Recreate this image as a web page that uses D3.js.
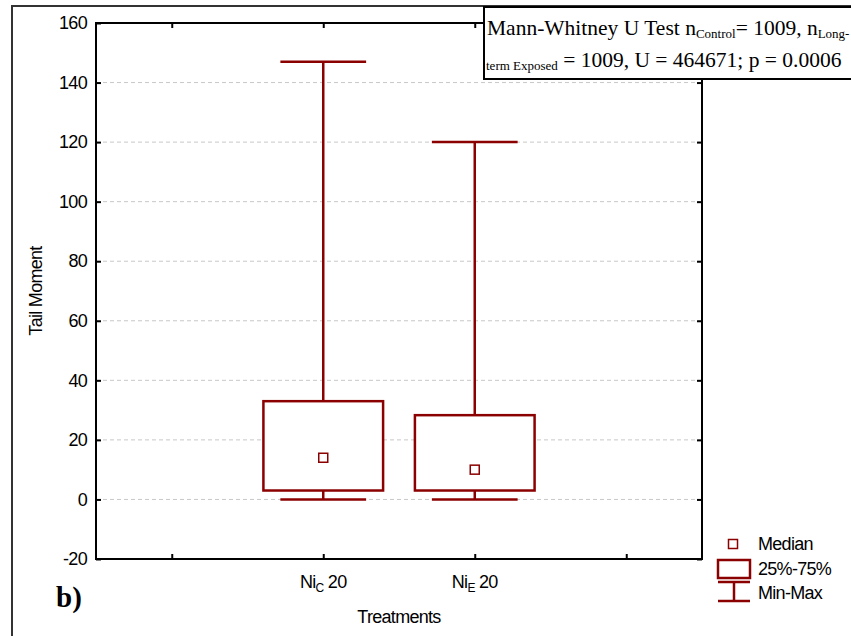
<!DOCTYPE html>
<html>
<head>
<meta charset="utf-8">
<script src="https://cdn.jsdelivr.net/npm/d3@7"></script>
<style>
  body { margin: 0; background: #fff; }
  svg { display: block; }
  .sans { font-family: "Liberation Sans", Arial, sans-serif; }
  .serif { font-family: "Liberation Serif", "Times New Roman", serif; }
</style>
</head>
<body>
<div id="chart"></div>
<script>
// Box summary per treatment (Tail Moment)
const treatments = [
  { base: "Ni", sub: "C", rest: " 20" },
  { base: "Ni", sub: "E", rest: " 20" },
];
const slotPos  = [2, 3];          // which of the 4 x slots each box sits in
const minVals  = [0, 0];
const q1Vals   = [3, 3];
const medVals  = [14, 10];
const q3Vals   = [33, 28.3];
const maxVals  = [147, 120];

const yTicks = [-20, 0, 20, 40, 60, 80, 100, 120, 140, 160];
const xSlots = [1, 2, 3, 4];

const W = 851, H = 636;
const M = { left: 96, right: 149, top: 23, bottom: 77 };
const dark = "#8b0000";
const FS = 18, LS = -0.7;

const svg = d3.select("#chart").append("svg").attr("width", W).attr("height", H);

// outer frame
svg.append("rect").attr("x", 12).attr("y", 6).attr("width", W).attr("height", H)
  .attr("fill", "none").attr("stroke", "#333").attr("stroke-width", 2);

const x = d3.scaleLinear().domain([0.5, 4.5]).range([M.left, W - M.right]);
const y = d3.scaleLinear().domain([-20, 160]).range([H - M.bottom, M.top]);

// grid
svg.append("g").selectAll("line").data(yTicks.slice(1, -1)).join("line")
  .attr("x1", M.left).attr("x2", W - M.right)
  .attr("y1", d => y(d)).attr("y2", d => y(d))
  .attr("stroke", "#c8c8c8").attr("stroke-dasharray", "4,3");

// axes (inside ticks)
const yAxis = svg.append("g").attr("class", "sans")
  .attr("transform", `translate(${M.left},0)`)
  .call(d3.axisLeft(y).tickValues(yTicks).tickSizeInner(-5).tickSizeOuter(0).tickPadding(9)
    .tickFormat(d => String(d)));
const yAxisR = svg.append("g").attr("transform", `translate(${W - M.right},0)`)
  .call(d3.axisRight(y).tickValues(yTicks).tickSizeInner(-5).tickSizeOuter(0).tickFormat(""));
const xAxis = svg.append("g").attr("transform", `translate(0,${H - M.bottom})`)
  .call(d3.axisBottom(x).tickValues(xSlots).tickSizeInner(-5).tickSizeOuter(0).tickFormat(""));
const xAxisT = svg.append("g").attr("transform", `translate(0,${M.top})`)
  .call(d3.axisTop(x).tickValues(xSlots).tickSizeInner(-5).tickSizeOuter(0).tickFormat(""));
[yAxis, yAxisR, xAxis, xAxisT].forEach(a => {
  a.select(".domain").remove();
  a.selectAll(".tick line").attr("stroke", "#000").attr("stroke-width", 2);
});
yAxis.selectAll(".tick text").attr("font-size", FS).attr("fill", "#000").attr("letter-spacing", LS);

// frame of plot
svg.append("rect").attr("x", M.left).attr("y", M.top)
  .attr("width", W - M.right - M.left).attr("height", H - M.bottom - M.top)
  .attr("fill", "none").attr("stroke", "#000").attr("stroke-width", 2);

// boxes
const bw = 0.395, cw = 0.283;
const g = svg.append("g").attr("stroke", dark).attr("stroke-width", 2.5).attr("fill", "none");
treatments.forEach((t, i) => {
  const c = x(slotPos[i]);
  const hb = x(slotPos[i] + bw) - c, hc = x(slotPos[i] + cw) - c;
  g.append("line").attr("x1", c).attr("x2", c).attr("y1", y(maxVals[i])).attr("y2", y(q3Vals[i]));
  g.append("line").attr("x1", c).attr("x2", c).attr("y1", y(q1Vals[i])).attr("y2", y(minVals[i]));
  g.append("line").attr("x1", c - hc).attr("x2", c + hc).attr("y1", y(maxVals[i])).attr("y2", y(maxVals[i]));
  g.append("line").attr("x1", c - hc).attr("x2", c + hc).attr("y1", y(minVals[i])).attr("y2", y(minVals[i]));
  g.append("rect").attr("x", c - hb).attr("width", 2 * hb)
    .attr("y", y(q3Vals[i])).attr("height", y(q1Vals[i]) - y(q3Vals[i])).attr("fill", "#fff");
  g.append("rect").attr("x", c - 4.5).attr("y", y(medVals[i]) - 4.5)
    .attr("width", 9).attr("height", 9).attr("stroke-width", 1.5).attr("fill", "#fff");
});

// x labels with subscripts
treatments.forEach((t, i) => {
  const txt = svg.append("text").attr("class", "sans").attr("x", x(slotPos[i])).attr("y", 588)
    .attr("text-anchor", "middle").attr("font-size", FS).attr("letter-spacing", LS);
  txt.append("tspan").text(t.base);
  txt.append("tspan").attr("font-size", 12).attr("dy", 4).text(t.sub);
  txt.append("tspan").attr("dy", -4).text(t.rest);
});

svg.append("text").attr("class", "sans").attr("x", (M.left + W - M.right) / 2).attr("y", 623)
  .attr("text-anchor", "middle").attr("font-size", FS).attr("letter-spacing", LS).text("Treatments");

svg.append("text").attr("class", "sans")
  .attr("transform", `translate(42,${(M.top + H - M.bottom) / 2}) rotate(-90)`)
  .attr("text-anchor", "middle").attr("font-size", FS).attr("letter-spacing", LS).text("Tail Moment");

svg.append("text").attr("class", "serif").attr("x", 56).attr("y", 607)
  .attr("font-size", 29).attr("font-weight", "bold").text("b)");

// legend
const lg = svg.append("g").attr("stroke", dark).attr("fill", "none");
lg.append("rect").attr("x", 728.5).attr("y", 539.5).attr("width", 9).attr("height", 9).attr("stroke-width", 1.5);
lg.append("rect").attr("x", 718).attr("y", 560).attr("width", 32).attr("height", 18).attr("stroke-width", 2.5);
lg.append("line").attr("x1", 718).attr("x2", 750).attr("y1", 582).attr("y2", 582).attr("stroke-width", 2.5);
lg.append("line").attr("x1", 718).attr("x2", 750).attr("y1", 601).attr("y2", 601).attr("stroke-width", 2.5);
lg.append("line").attr("x1", 734).attr("x2", 734).attr("y1", 582).attr("y2", 601).attr("stroke-width", 2.5);
const legendLabels = ["Median", "25%-75%", "Min-Max"];
const legendY = [550, 575, 599];
svg.append("g").attr("class", "sans").selectAll("text").data(legendLabels).join("text")
  .attr("x", 758).attr("y", (d, i) => legendY[i]).attr("font-size", FS).attr("letter-spacing", LS)
  .text(d => d);

// annotation box
svg.append("rect").attr("x", 484).attr("y", 7).attr("width", 400).attr("height", 72)
  .attr("fill", "#fff").attr("stroke", "#000").attr("stroke-width", 2);
const ann = svg.append("g").attr("class", "serif").attr("font-size", 21.5);
const l1 = ann.append("text").attr("x", 487).attr("y", 35);
l1.append("tspan").text("Mann-Whitney U Test n");
l1.append("tspan").attr("font-size", 13).attr("dy", 3).text("Control");
l1.append("tspan").attr("dy", -3).text("= 1009, n");
l1.append("tspan").attr("font-size", 13).attr("dy", 3).text("Long-");
const l2 = ann.append("text").attr("x", 486).attr("y", 67);
l2.append("tspan").attr("font-size", 13).attr("dy", 3).text("term Exposed");
l2.append("tspan").attr("dy", -3).text(" = 1009, U = 464671; p = 0.0006");
</script>
</body>
</html>
